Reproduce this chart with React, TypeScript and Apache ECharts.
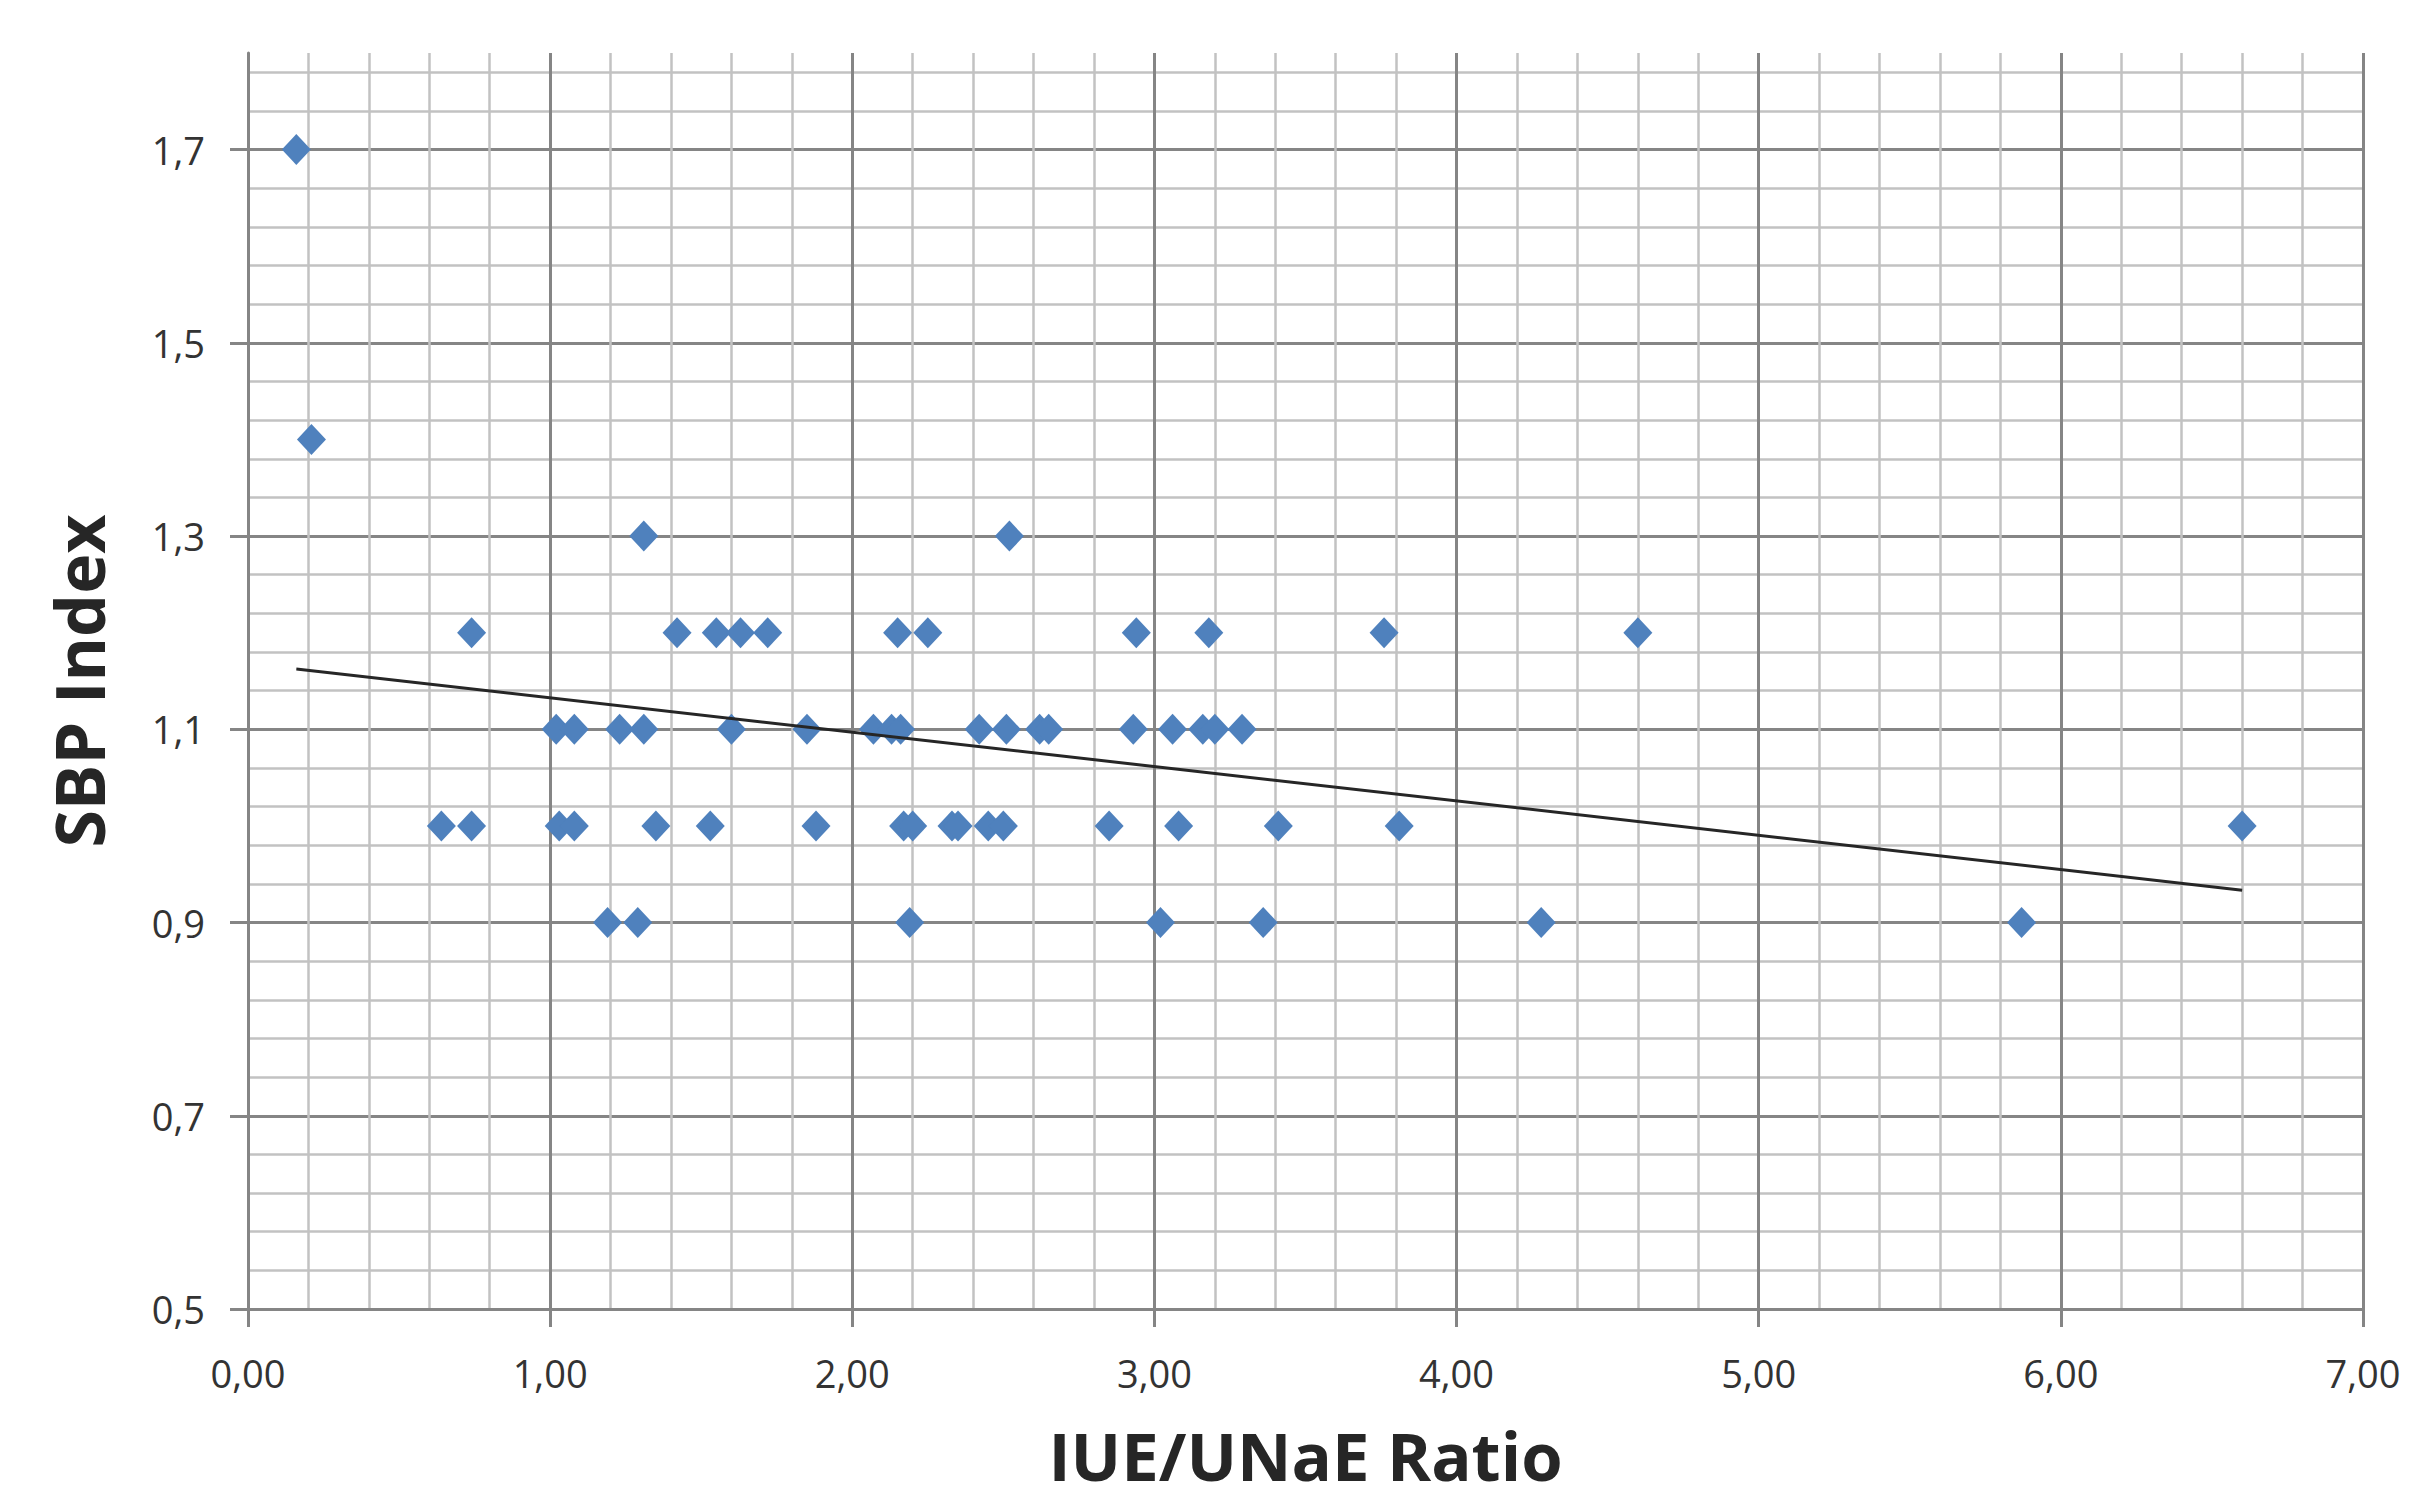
import React, { useEffect, useRef } from "react";
import * as echarts from "echarts";

// SBP Index levels and IUE/UNaE ratio values read at each level
const sbpLevels = [1.7, 1.4, 1.3, 1.2, 1.1, 1.0, 0.9];
const ratioAt17 = [0.16];
const ratioAt14 = [0.21];
const ratioAt13 = [1.31, 2.52];
const ratioAt12 = [0.74, 1.42, 1.55, 1.63, 1.72, 2.15, 2.25, 2.94, 3.18, 3.76, 4.6];
const ratioAt11 = [1.02, 1.08, 1.23, 1.31, 1.6, 1.85, 2.07, 2.13, 2.16, 2.42, 2.51, 2.62, 2.65, 2.93, 3.06, 3.16, 3.2, 3.29];
const ratioAt10 = [0.64, 0.74, 1.03, 1.08, 1.35, 1.53, 1.88, 2.17, 2.2, 2.33, 2.35, 2.45, 2.5, 2.85, 3.08, 3.41, 3.81, 6.6];
const ratioAt09 = [1.19, 1.29, 2.19, 3.02, 3.36, 4.28, 5.87];
const ratioGroups = [ratioAt17, ratioAt14, ratioAt13, ratioAt12, ratioAt11, ratioAt10, ratioAt09];

// Axis ticks
const yTickLabels = [0.5, 0.7, 0.9, 1.1, 1.3, 1.5, 1.7];
const xMin = 0;
const xMax = 7;
const yMin = 0.5;
const yMax = 1.8;

const xTitle = "IUE/UNaE Ratio";
const yTitle = "SBP Index";

const MAJOR = "#858585";
const MINOR = "#c2c2c2";
const FONT = "'Open Sans', 'Noto Sans', sans-serif";

export default function App() {
  const ref = useRef<HTMLDivElement>(null);

  useEffect(() => {
    if (!ref.current) return;
    const chart = echarts.init(ref.current, undefined, { renderer: "svg" });

    const points: number[][] = [];
    ratioGroups.forEach((g, i) => g.forEach((x) => points.push([x, sbpLevels[i]])));

    // least-squares linear trend line (as Excel does) from the data
    const n = points.length;
    const mx = points.reduce((s, p) => s + p[0], 0) / n;
    const my = points.reduce((s, p) => s + p[1], 0) / n;
    let sxy = 0;
    let sxx = 0;
    points.forEach((p) => {
      sxy += (p[0] - mx) * (p[1] - my);
      sxx += (p[0] - mx) * (p[0] - mx);
    });
    const slope = sxy / sxx;
    const icpt = my - slope * mx;
    const xs = points.map((p) => p[0]);
    const tx0 = Math.min(...xs);
    const tx1 = Math.max(...xs);
    const trend = [
      [tx0, icpt + slope * tx0],
      [tx1, icpt + slope * tx1],
    ];

    const hiddenAxisParts = {
      axisLine: { show: false },
      axisTick: { show: false },
      axisLabel: { show: false },
    };

    chart.setOption({
      animation: false,
      backgroundColor: "#ffffff",
      grid: { left: 248, top: 53, width: 2115, height: 1256, containLabel: false },
      xAxis: [
        {
          type: "value",
          min: xMin,
          max: xMax,
          interval: 1,
          axisLine: { show: true, onZero: false, lineStyle: { color: MAJOR, width: 3 } },
          axisTick: { show: true, length: 18, lineStyle: { color: MAJOR, width: 3 } },
          axisLabel: {
            margin: 45,
            fontSize: 38,
            fontFamily: FONT,
            color: "#333333",
            formatter: (v: number) => v.toFixed(2).replace(".", ","),
          },
          splitLine: { show: true, lineStyle: { color: MAJOR, width: 3 } },
          minorTick: { show: false, splitNumber: 5 },
          minorSplitLine: { show: true, lineStyle: { color: MINOR, width: 2.5 } },
          name: xTitle,
          nameLocation: "middle",
          nameGap: 112,
          nameTextStyle: { fontSize: 67, lineHeight: 68, fontWeight: "bold", fontFamily: FONT, color: "#262626" },
        },
      ],
      yAxis: [
        {
          // minor horizontal grid: one step = 0.04 of SBP index, counted from 0.5
          type: "value",
          position: "left",
          min: 0,
          max: (yMax - yMin) / 0.04,
          interval: 1,
          ...hiddenAxisParts,
          splitLine: { show: true, showMinLine: false, showMaxLine: false, lineStyle: { color: MINOR, width: 2.5 } },
        },
        {
          // major horizontal grid: one step = 0.2 of SBP index, counted from 0.5
          type: "value",
          position: "left",
          min: 0,
          max: (yMax - yMin) / 0.2,
          interval: 1,
          ...hiddenAxisParts,
          splitLine: { show: true, showMinLine: false, showMaxLine: false, lineStyle: { color: MAJOR, width: 3 } },
        },
        {
          type: "value",
          position: "left",
          min: yMin,
          max: yMax,
          axisLine: { show: true, onZero: false, lineStyle: { color: MAJOR, width: 3 } },
          axisTick: { show: true, length: 18, customValues: yTickLabels, lineStyle: { color: MAJOR, width: 3 } },
          axisLabel: {
            customValues: yTickLabels,
            margin: 43,
            fontSize: 38,
            fontFamily: FONT,
            color: "#333333",
            formatter: (v: number) => v.toFixed(1).replace(".", ","),
          },
          splitLine: { show: false },
          name: yTitle,
          nameLocation: "middle",
          nameGap: 135,
          nameTextStyle: { fontSize: 68, lineHeight: 70, fontWeight: "bold", fontFamily: FONT, color: "#262626" },
        },
      ],
      series: [
        {
          type: "scatter",
          yAxisIndex: 2,
          data: points,
          symbol: "diamond",
          symbolSize: [29, 31],
          itemStyle: { color: "#4f81bd", opacity: 1 },
          z: 3,
        },
        {
          type: "line",
          yAxisIndex: 2,
          data: trend,
          symbol: "none",
          lineStyle: { color: "#262626", width: 3 },
          z: 4,
        },
      ],
    });

    return () => chart.dispose();
  }, []);

  return (
    <div
      ref={ref}
      style={{ position: "absolute", left: 0, top: 0, width: 2415, height: 1505, background: "#fff" }}
    />
  );
}
